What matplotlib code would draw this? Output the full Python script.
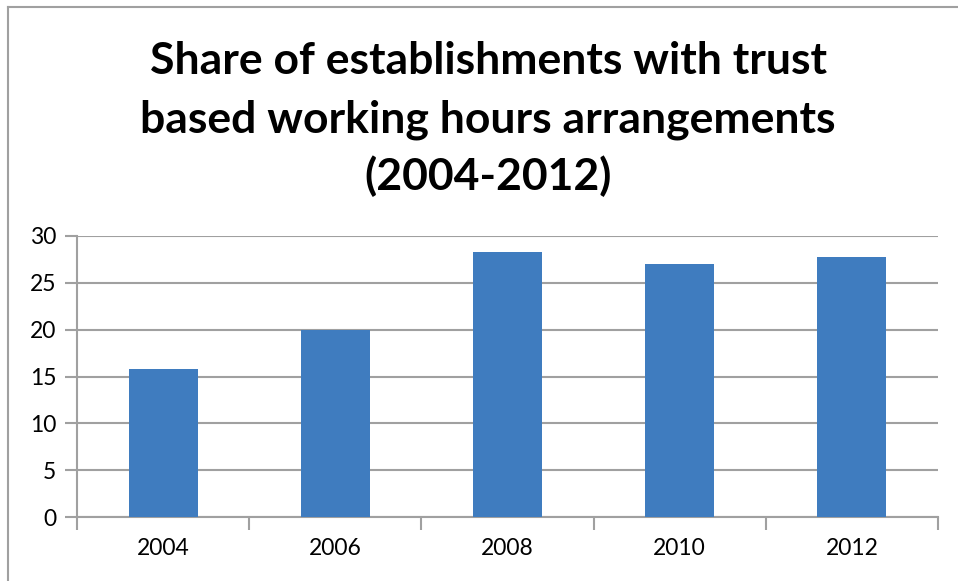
import matplotlib
matplotlib.use("Agg")
import matplotlib.pyplot as plt
from matplotlib.lines import Line2D

years = ["2004", "2006", "2008", "2010", "2012"]
shares = [15.8, 20.0, 28.3, 27.0, 27.8]
yticks = [0, 5, 10, 15, 20, 25, 30]
title_lines = ["Share of establishments with trust",
               "based working hours arrangements",
               "(2004-2012)"]

W, H = 958, 581
fig = plt.figure(figsize=(W / 100, H / 100), dpi=100)
fig.patch.set_facecolor("white")

# outer chart border (left and top visible)
fig.add_artist(Line2D([7.5 / W, 7.5 / W], [0, 1 - 6.5 / H], transform=fig.transFigure,
                      color="#A0A0A0", lw=1.5))
fig.add_artist(Line2D([7.5 / W, 1], [1 - 6.5 / H, 1 - 6.5 / H], transform=fig.transFigure,
                      color="#A0A0A0", lw=1.5))

ax = fig.add_axes([77 / W, (H - 517) / H, (938 - 77) / W, (517 - 236) / H])
x = list(range(len(years)))
ax.bar(x, shares, width=0.4, color="#3F7CBF", zorder=3)
ax.set_xlim(-0.5, len(years) - 0.5)
ax.set_ylim(0, 30)
ax.set_yticks(yticks)
ax.set_yticklabels([str(v) for v in yticks])
ax.yaxis.grid(True, color="#A0A0A0", lw=1.5, zorder=0)
ax.set_axisbelow(True)

ax.set_xticks(x)
ax.set_xticklabels(years)
ax.tick_params(axis="x", length=0, pad=15, labelsize=16.5)
ax.set_xticks([i - 0.5 for i in range(len(years) + 1)], minor=True)
ax.tick_params(axis="x", which="minor", length=9, width=1.5, color="#A0A0A0")
ax.tick_params(axis="y", length=9, width=1.5, color="#A0A0A0", pad=6, labelsize=16.5)
for lab in ax.get_xticklabels() + ax.get_yticklabels():
    lab.set_fontfamily("Lato")

for s in ["top", "right"]:
    ax.spines[s].set_visible(False)
for s in ["left", "bottom"]:
    ax.spines[s].set_color("#A0A0A0")
    ax.spines[s].set_linewidth(1.5)

baselines = [74, 132, 190]
for line, b in zip(title_lines, baselines):
    fig.text(488 / W, 1 - b / H, line, ha="center", va="baseline",
             fontsize=32, fontweight="bold", fontfamily="Lato", color="black")

fig.savefig("out.png", dpi=100)
